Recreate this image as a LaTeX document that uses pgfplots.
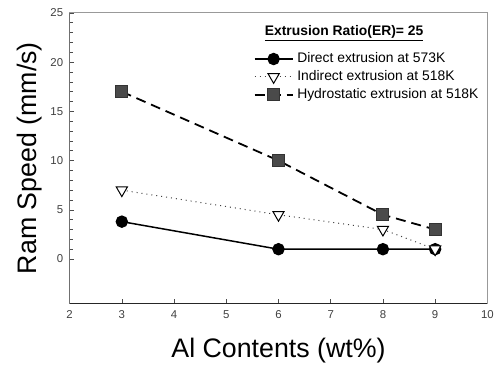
\documentclass[border=0pt]{standalone}
\usepackage{pgfplots}
\pgfplotsset{compat=1.18}
\usepackage{fontspec}
\setmainfont{Liberation Sans}
\definecolor{sqfill}{HTML}{4A4A4A}
\begin{document}
\begin{tikzpicture}
\path (-70bp,-60bp) rectangle (427bp,305bp);
\begin{axis}[
 at={(0,0)}, anchor=south west,
 scale only axis, width=420bp, height=292bp,
 xmin=2, xmax=10, ymin=-4.5, ymax=25,
 xtick={2,...,10}, ytick={0,5,...,25}, minor y tick num=4,
 xtick pos=bottom, ytick pos=left, tick align=inside,
 major tick length=4bp, minor tick length=3bp,
 axis line style={draw=black!40, line width=1bp},
 tick style={black!70, line width=0.6bp},
 ticklabel style={font=\fontsize{11.5}{12}\selectfont, text=black!75},
 /pgf/number format/assume math mode=true,
 xticklabel style={yshift=-4bp}, yticklabel style={xshift=-3bp},
 xlabel={Al Contents (wt\%)}, ylabel={Ram Speed (mm/s)},
 label style={font=\fontsize{27}{30}\selectfont},
 xlabel style={at={(axis description cs:0.5,-0.185)}, anchor=base},
 ylabel style={at={(axis description cs:-0.0786,0.5)}, anchor=base},
 legend style={at={(rel axis cs:0.4405,0.866)}, anchor=north west, draw=none, fill=none,
   inner sep=0pt, row sep=4bp, font=\fontsize{14}{16}\selectfont,
   nodes={inner sep=0pt, text height=11bp, text depth=3bp}},
 legend cell align=left,
 legend image code/.code={\draw[mark repeat=2,mark phase=2,#1] plot coordinates {(0bp,0bp)(19bp,0bp)(38bp,0bp)};},
]
\addplot[black, line width=1.5bp, mark=*, mark size=5.5bp, mark options={solid, fill=black}]
 coordinates {(3,3.8) (6,1) (8,1) (9,1)};
\addlegendentry{\ Direct extrusion at 573K}
\addplot[black!75, line width=1bp, dash pattern=on 1bp off 4bp, mark=triangle*, mark size=6.5bp,
 mark options={solid, rotate=180, fill=white, draw=black, line width=1bp}]
 coordinates {(3,7) (6,4.5) (8,3) (9,1)};
\addlegendentry{\ Indirect extrusion at 518K}
\addplot[black, line width=1.8bp, dash pattern=on 10bp off 6bp, mark=square*, mark size=6bp,
 mark options={solid, fill=sqfill, draw=black!80, line width=1bp}]
 coordinates {(3,17) (6,10) (8,4.5) (9,3)};
\addlegendentry{\ Hydrostatic extrusion at 518K}
\draw[black!85, line width=1.2bp] (rel axis cs:0,1) -- (rel axis cs:0,0) -- (rel axis cs:1,0);
\node[anchor=base west, font=\bfseries\fontsize{14}{16}\selectfont, inner sep=0pt] at (rel axis cs:0.467,0.921) {\underline{Extrusion Ratio(ER)= 25}};
\end{axis}
\end{tikzpicture}
\end{document}
